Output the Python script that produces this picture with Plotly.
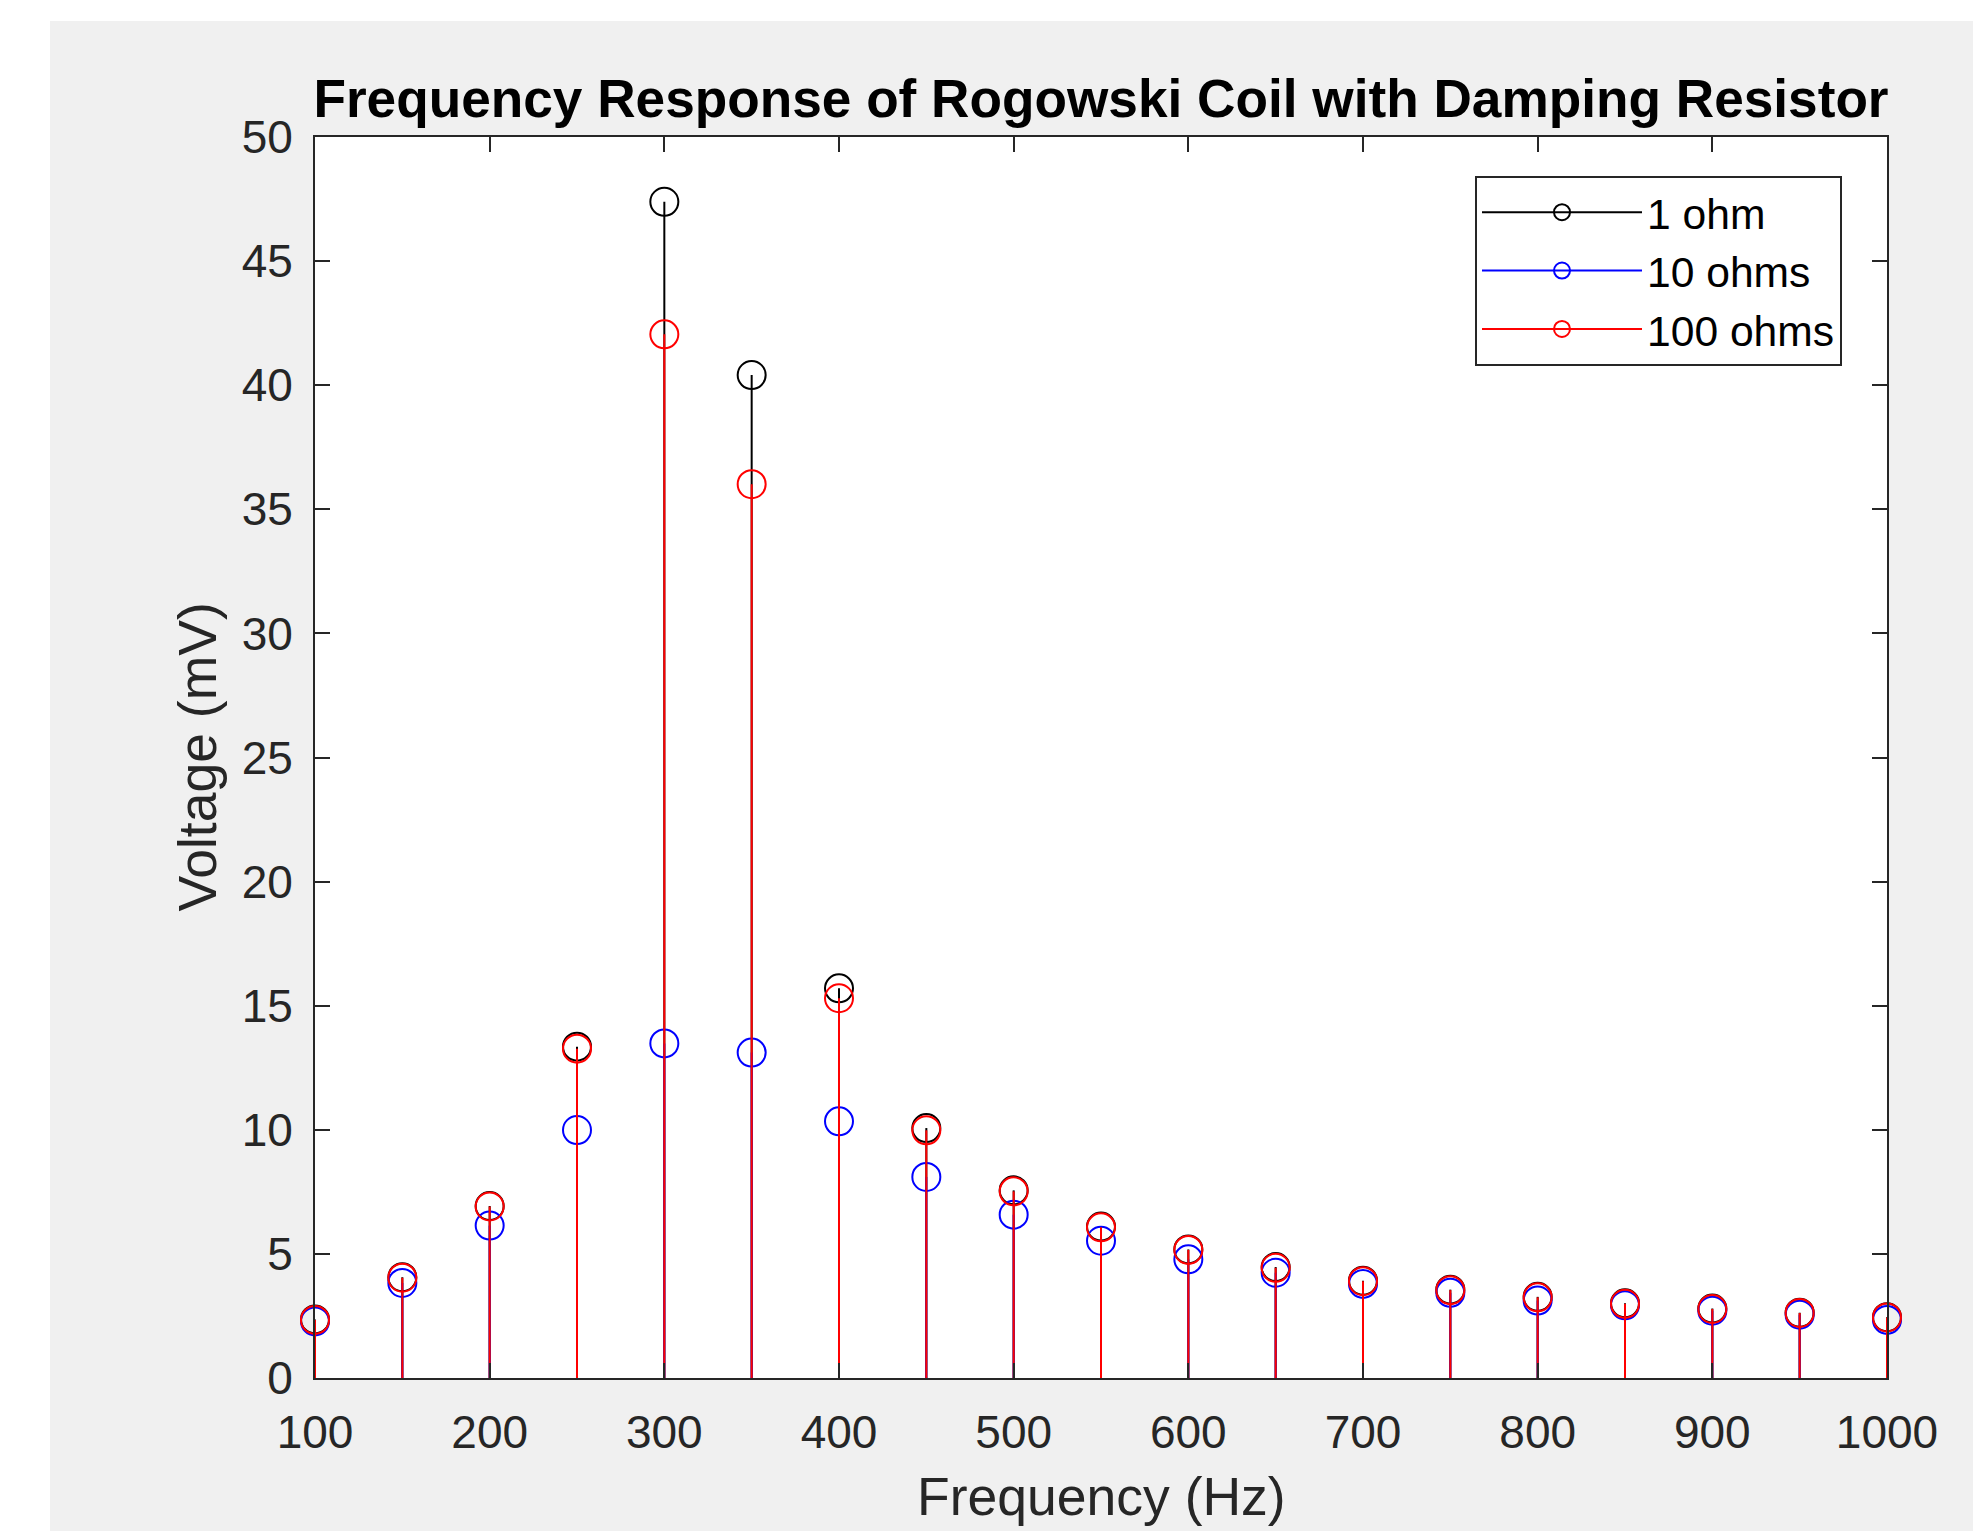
import plotly.graph_objects as go

# ---- data ----
freq_hz = [100, 150, 200, 250, 300, 350, 400, 450, 500, 550,
           600, 650, 700, 750, 800, 850, 900, 950, 1000]
v_1ohm = [2.36, 4.06, 6.93, 13.35, 47.39, 40.41, 15.70, 10.07, 7.56, 6.10,
          5.18, 4.47, 3.92, 3.56, 3.27, 3.01, 2.80, 2.63, 2.45]
v_10ohm = [2.28, 3.83, 6.14, 9.99, 13.48, 13.11, 10.34, 8.10, 6.58, 5.53,
           4.78, 4.24, 3.79, 3.43, 3.12, 2.93, 2.71, 2.55, 2.34]
v_100ohm = [2.34, 4.04, 6.91, 13.27, 42.05, 36.01, 15.30, 9.98, 7.52, 6.07,
            5.16, 4.44, 3.90, 3.54, 3.25, 2.99, 2.78, 2.62, 2.44]
series_names = ["1 ohm", "10 ohms", "100 ohms"]
series_values = [v_1ohm, v_10ohm, v_100ohm]
series_colors = ["#000000", "#0000ff", "#ff0000"]
x_ticks = [100, 200, 300, 400, 500, 600, 700, 800, 900, 1000]
y_ticks = [0, 5, 10, 15, 20, 25, 30, 35, 40, 45, 50]

W, H = 1973, 1531
L, R, T, B = 315, 86, 137, 153
pw, ph = W - L - R, H - T - B

FONT = "Arial, 'Liberation Sans', Helvetica, sans-serif"
AX = "#262626"

fig = go.Figure()
for name, vals, col in zip(series_names, series_values, series_colors):
    sx, sy = [], []
    for f, v in zip(freq_hz, vals):
        sx += [f, f, None]
        sy += [0, v, None]
    fig.add_trace(go.Scatter(x=sx, y=sy, mode="lines",
                             line=dict(color=col, width=2),
                             showlegend=False, hoverinfo="skip"))
    mx, my = [], []
    for f, v in zip(freq_hz, vals):
        mx += [f, None]
        my += [v, None]
    fig.add_trace(go.Scatter(x=mx, y=my, mode="lines+markers", name=name,
                             line=dict(color=col, width=2),
                             marker=dict(symbol="circle-open", size=28,
                                         color=col, line=dict(color=col, width=2)),
                             cliponaxis=False))

def px_to_paper_x(px):
    return (px - L) / pw

def px_to_paper_y(py):
    return (H - B - py) / ph

shapes = [
    # white strips around the grey figure background
    dict(type="rect", xref="paper", yref="paper", layer="below",
         x0=-0.4, x1=1.2, y0=px_to_paper_y(21), y1=1.3,
         fillcolor="white", line=dict(width=0)),
    dict(type="rect", xref="paper", yref="paper", layer="below",
         x0=-0.4, x1=px_to_paper_x(50), y0=-0.3, y1=1.3,
         fillcolor="white", line=dict(width=0)),
]

axis_common = dict(showline=True, linecolor=AX, linewidth=2, mirror="ticks",
                   ticks="inside", ticklen=15, tickwidth=2, tickcolor=AX,
                   showgrid=False, zeroline=False,
                   tickfont=dict(family=FONT, size=46, color=AX))

fig.update_layout(
    width=W, height=H,
    margin=dict(l=L, r=R, t=T, b=B, autoexpand=False),
    paper_bgcolor="#f0f0f0", plot_bgcolor="white",
    shapes=shapes,
    title=dict(text="<b>Frequency Response of Rogowski Coil with Damping Resistor</b>",
               font=dict(family=FONT, size=53.2, color="#000000"),
               x=0.5, xref="paper", xanchor="center",
               y=1 - 98 / H, yref="container", yanchor="middle"),
    xaxis=dict(range=[100, 1000], tickvals=x_ticks, ticklabelstandoff=13,
               **axis_common),
    yaxis=dict(range=[0, 50], tickvals=y_ticks, ticklabelstandoff=11,
               **axis_common),
    legend=dict(x=px_to_paper_x(1475), y=px_to_paper_y(176),
                xanchor="left", yanchor="top",
                bgcolor="white", bordercolor=AX, borderwidth=2,
                font=dict(family=FONT, size=42.6, color="#000000"),
                itemwidth=160, tracegroupgap=0),
    annotations=[
        dict(text="Frequency (Hz)", xref="paper", yref="paper",
             x=0.5, y=px_to_paper_y(1496), xanchor="center", yanchor="middle",
             showarrow=False, font=dict(family=FONT, size=53.5, color=AX)),
        dict(text="Voltage (mV)", xref="paper", yref="paper",
             x=px_to_paper_x(197), y=0.5, xanchor="center", yanchor="middle",
             textangle=-90, showarrow=False,
             font=dict(family=FONT, size=53.5, color=AX)),
    ],
)

fig.write_html("out.html", config={"displayModeBar": False},
               post_script="document.body.style.margin='0';document.body.style.padding='0';")
